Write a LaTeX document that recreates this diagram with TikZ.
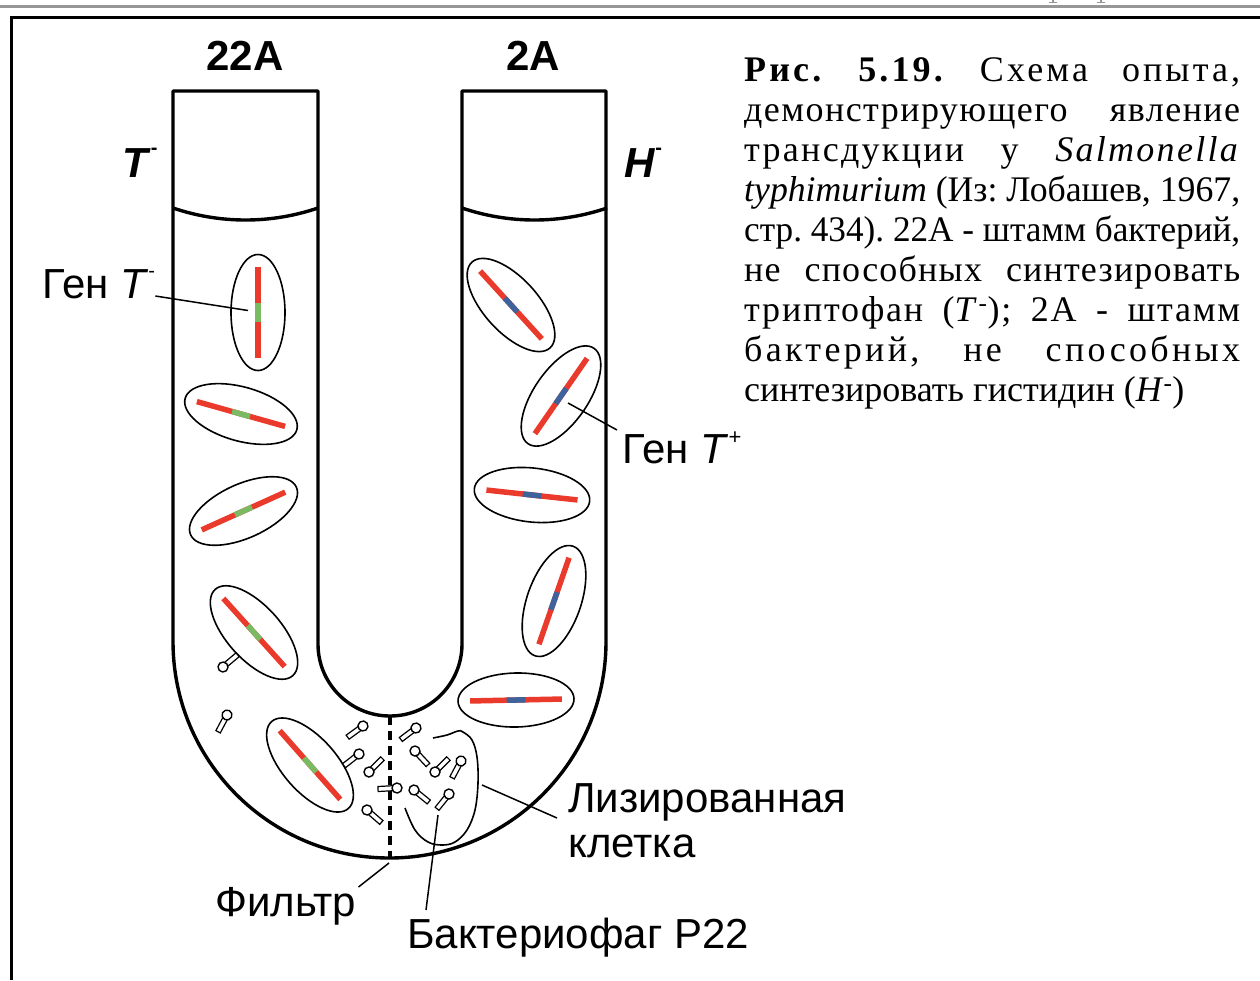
\documentclass[tikz,border=0pt]{standalone}
\usepackage{fontspec}
\usepackage{graphicx}
\setmainfont{Liberation Serif}
\newfontfamily\lsans{Liberation Sans}
\usetikzlibrary{shapes.geometric,calc}

\definecolor{genered}{RGB}{234,58,44}
\definecolor{genegreen}{RGB}{122,186,98}
\definecolor{geneblue}{RGB}{62,98,156}
\definecolor{rulegray}{RGB}{150,150,150}

% justified caption line of fixed width: half of the spare room goes
% between letters, the rest between words
\newlength\capw
\setlength\capw{496pt}
\newlength\lsedge
\newcommand\jline[1]{\setbox0=\hbox{\frenchspacing#1}%
  \ifdim\wd0>\capw\resizebox{\capw}{\height}{\frenchspacing#1}%
  \else
    \setbox2=\hbox{\frenchspacing\addfontfeatures{LetterSpace=10}#1}%
    \pgfmathsetmacro\lsp{5*(\capw-\wd0)/(\wd2-\wd0)}%
    \setbox4=\hbox{\addfontfeatures{LetterSpace=\lsp}x}\setbox6=\hbox{x}%
    \setlength\lsedge{\dimexpr(\wd4-\wd6)/2\relax}%
    \hbox to \capw{\kern-\lsedge\frenchspacing\addfontfeatures{LetterSpace=\lsp}%
      \spaceskip=0.25em plus 1fil\relax#1\kern-\lsedge}%
  \fi}

% small raised sign after a gene symbol
\newcommand\gsign[3]{\raisebox{#1}{\fontsize{#2}{#2}\selectfont #3}}

% gene drawn along the long axis of a cell, marked part in the middle
\newcommand\genebar[2]{%
  \draw[gene] ($(#1.center)!0.79!(#1.west)$) -- ($(#1.center)!0.79!(#1.east)$);
  \draw[gene,#2] ($(#1.center)!0.16!(#1.west)$) -- ($(#1.center)!0.16!(#1.east)$);}

\begin{document}
\begin{tikzpicture}[x=1pt,y=-1pt,
  tube/.style={line width=3.4pt, line join=round},
  cellbox/.style={ellipse, draw, line width=1.6pt, minimum width=116pt,
    minimum height=54pt, inner sep=0pt, outer sep=0pt},
  gene/.style={line width=5.5pt, genered},
  leader/.style={line width=1.5pt},
  filterline/.style={line width=3.4pt, dash pattern=on 9pt off 6pt},
  lbl/.style={inner sep=0pt, anchor=base west, font=\lsans\fontsize{42}{50}\selectfont},
  hdr/.style={inner sep=0pt, font=\lsans\bfseries\fontsize{42}{50}\selectfont},
  captxt/.style={inner sep=0pt, anchor=base west, font=\fontsize{36}{40}\selectfont},
  phage/.pic={
    \draw[line width=1.2pt, fill=white] (0,-2.5) -- (19,-2.5) -- (19,2.5) -- (0,2.5) -- cycle;
    \draw[line width=1.4pt, fill=white] (0,0) circle[radius=5pt];
  }
]
\useasboundingbox (0,0) rectangle (1260,980);

% page rules and frame
\draw[rulegray, line width=3.5pt] (0,6.5) -- (1260,6.5);
\draw[rulegray, line width=1.2pt] (1053,0) -- (1053,2.6) (1049,2.6) -- (1057,2.6)
  (1101,0) -- (1101,2.6) (1097,2.6) -- (1105,2.6);
\draw[line width=3pt, line join=miter] (1260,17) -- (11,17) -- (11,980);

% U-tube
\draw[tube] (173,91) -- (173,641.5) arc[start angle=180, end angle=360, radius=216.5pt]
  -- (606,91) -- (462,91) -- (462,644) arc[start angle=0, end angle=-180, radius=72pt]
  -- (318,91) -- cycle;
% menisci
\draw[tube] (173,208) arc[start angle=251.2, end angle=288.8, radius=225pt];
\draw[tube] (462,208) arc[start angle=251.2, end angle=288.8, radius=225pt];
% filter
\coordinate (fT) at (390,716);
\coordinate (fB) at (390,858);
\draw[filterline] (fT) -- (fB);

% strain 22A cells
\node[cellbox, rotate=90]    (cA) at (258,312.5) {};
\node[cellbox, rotate=-15.7] (cB) at (241,414) {};
\node[cellbox, rotate=24.3]  (cC) at (243.5,511) {};
\node[cellbox, rotate=-48]   (cD) at (254,632.5) {};
\node[cellbox, rotate=-48.6] (cE) at (310,765) {};
\foreach \c in {cA,cB,cC,cD,cE}{\genebar{\c}{genegreen}}

% strain 2A cells
\node[cellbox, rotate=-47.7] (cF) at (511,305) {};
\node[cellbox, rotate=55.3]  (cG) at (561,396) {};
\node[cellbox, rotate=-6.2]  (cH) at (532,495) {};
\node[cellbox, rotate=70.8]  (cI) at (554,601) {};
\node[cellbox, rotate=1.2]   (cJ) at (516,700) {};
\foreach \c in {cF,cG,cH,cI,cJ}{\genebar{\c}{geneblue}}

% lysed cell
\draw[line width=1.6pt] plot[smooth, tension=0.6] coordinates {(405,808) (415,830) (428,842)
  (442,845) (455,842) (467,830) (475,810) (478,783) (477,757) (472,740) (463,732)
  (458,731) (447,735) (433,738)};

% phages
\pic[rotate=216] at (363,726) {phage};
\pic[rotate=218] at (359,754) {phage};
\pic[rotate=45]  at (369,772) {phage};
\pic[rotate=183] at (397,788) {phage};
\pic[rotate=-41] at (367,810) {phage};
\pic[rotate=217] at (416,728) {phage};
\pic[rotate=-47] at (415,751) {phage};
\pic[rotate=45]  at (435,772) {phage};
\pic[rotate=242] at (461,761) {phage};
\pic[rotate=-39] at (414,790) {phage};
\pic[rotate=231] at (449,794) {phage};
\pic[rotate=242] at (227,715) {phage};
\pic[rotate=40]  at (223,667) {phage};

% headings
\node[hdr, anchor=base] (h22) at (245,70) {22A};
\node[hdr, anchor=base] (h2)  at (533,70) {2A};
\node[hdr, anchor=base west] (tm) at (122,177) {\textit{T}\gsign{23pt}{20}{-}};
\node[hdr, anchor=base west] (hm) at (624,177) {\textit{H}\gsign{23pt}{20}{-}};

% labels
\node[lbl] (gtm) at (42,298) {Ген \textit{T}\gsign{21pt}{20}{-}};
\node[lbl] (gtp) at (622,463) {Ген \textit{T}\gsign{19pt}{22}{+}};
\node[lbl] (lyz) at (568,812) {Лизированная};
\node[lbl] (klt) at (568,857) {клетка};
\node[lbl] (flt) at (215,916) {Фильтр};
\node[lbl] (bph) at (407,948) {Бактериофаг P22};

% leaders
\coordinate (lysR) at (482,785);
\coordinate (phT) at (438,815);
\draw[leader] ($(gtm.base east)+(0,-2)$) -- ($(cA.center)+(-10,-2)$);
\draw[leader] ($(cG.center)+(7,7)$) -- ($(gtp.base west)+(-5,-33)$);
\draw[leader] (lysR) -- ($(lyz.base west)+(-11,6)$);
\draw[leader] (phT) -- ($(bph.base west)+(19,-38)$);
\draw[leader] ($(fB)+(-1,5)$) -- ($(flt.base east)+(2,-29)$);

% caption
\node[captxt] (cap1) at (744,81) {\jline{\textbf{Рис.} \textbf{5.19.} Схема опыта,}};
\node[captxt] (cap2) at (744,121) {\jline{демонстрирующего явление}};
\node[captxt] (cap3) at (744,161) {\jline{трансдукции у \textit{Salmonella}}};
\node[captxt] (cap4) at (744,201) {\jline{\textit{typhimurium} (Из: Лобашев, 1967,}};
\node[captxt] (cap5) at (744,241) {\jline{стр. 434). 22А - штамм бактерий,}};
\node[captxt] (cap6) at (744,281) {\jline{не способных синтезировать}};
\node[captxt] (cap7) at (744,321) {\jline{триптофан (\textit{T}\textsuperscript{-}); 2А - штамм}};
\node[captxt] (cap8) at (744,361) {\jline{бактерий, не способных}};
\node[captxt] (cap9) at (744,401) {синтезировать гистидин (\textit{H}\textsuperscript{-})};
\end{tikzpicture}
\end{document}
